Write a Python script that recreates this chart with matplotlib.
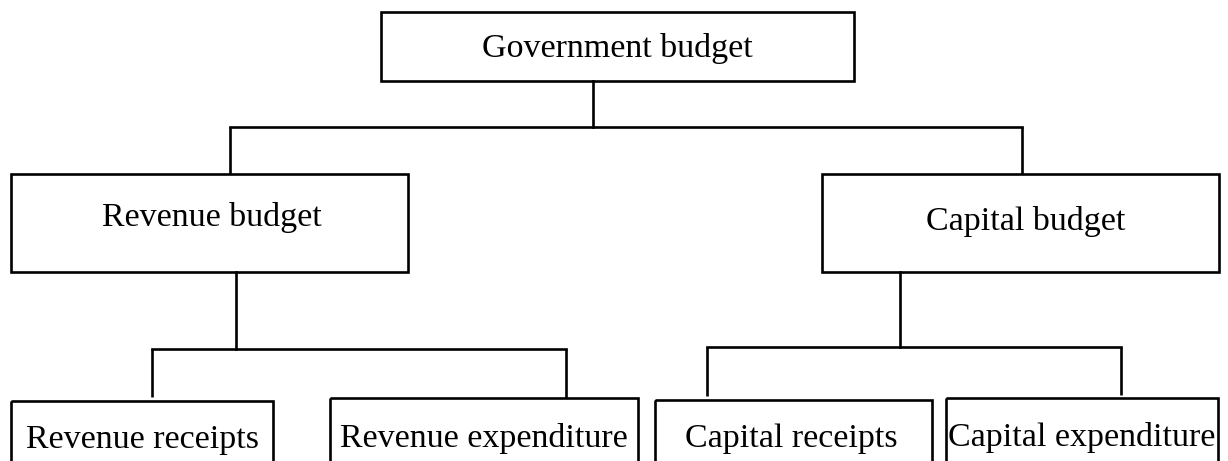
import matplotlib
matplotlib.use("Agg")
from matplotlib import pyplot as plt
from matplotlib.patches import Rectangle

# node labels of the budget tree
labels = [
    "Government budget",
    "Revenue budget",
    "Capital budget",
    "Revenue receipts",
    "Revenue expenditure",
    "Capital receipts",
    "Capital expenditure",
]
# parent of each node (index into labels), None for the root
parents = [None, 0, 0, 1, 1, 2, 2]

# layout in pixels: (left, top, right, bottom) of each box
boxes = [
    (381, 12, 854, 81),
    (11, 174, 408, 272),
    (822, 174, 1219, 272),
    (11, 401, 273, 490),
    (330, 398, 638, 490),
    (655, 400, 932, 490),
    (946, 398, 1218, 490),
]
# text anchor (centre x, baseline y) of each label
text_pos = [
    (617, 57),
    (212, 226),
    (1026, 230),
    (143, 448),
    (484, 447),
    (791, 447),
    (1082, 446),
]
# connector geometry: x of stem under each parent, y of the bar, x of drop to each child
stem_x = {0: 593, 1: 236, 2: 900}
bar_y = {0: 127, 1: 349, 2: 347}
drop_x = [None, 230, 1022, 152, 566, 707, 1121]
drop_end = [None, 174, 174, 397, 398, 396, 395]


def main():
    plt.rcParams['font.family'] = ['Liberation Serif', 'DejaVu Serif']
    fig = plt.figure(figsize=(12.28, 4.61), dpi=100)
    ax = fig.add_axes([0, 0, 1, 1])
    ax.set_xlim(0, 1228)
    ax.set_ylim(461, 0)
    ax.axis('off')

    lw = 1.9
    for i, (l, t, r, b) in enumerate(boxes):
        ax.add_patch(Rectangle((l, t), r - l, b - t, fill=False,
                               edgecolor='black', linewidth=lw))
        ax.text(text_pos[i][0], text_pos[i][1], labels[i], ha='center',
                va='baseline', fontsize=24.5, color='black')

    # connectors
    for p in stem_x:
        kids = [i for i, q in enumerate(parents) if q == p]
        ax.plot([stem_x[p], stem_x[p]], [boxes[p][3], bar_y[p]],
                color='black', lw=lw, solid_capstyle='projecting')
        xs = [drop_x[k] for k in kids]
        ax.plot([min(xs), max(xs)], [bar_y[p], bar_y[p]],
                color='black', lw=lw, solid_capstyle='projecting')
        for k in kids:
            ax.plot([drop_x[k], drop_x[k]], [bar_y[p], drop_end[k]],
                    color='black', lw=lw, solid_capstyle='butt')

    fig.savefig('out.png', dpi=100, facecolor='white')


if __name__ == "__main__":
    main()
